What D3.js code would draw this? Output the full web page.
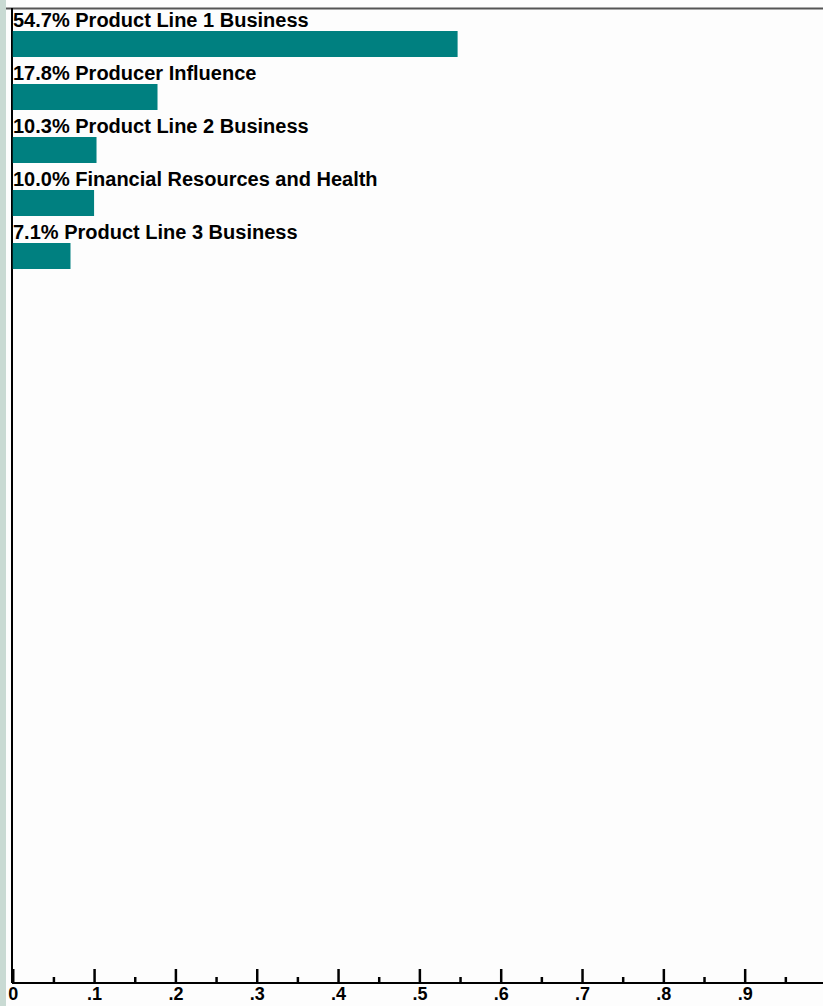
<!DOCTYPE html>
<html>
<head>
<meta charset="utf-8">
<script src="https://cdn.jsdelivr.net/npm/d3@7"></script>
<style>
  body { margin: 0; background: #fdfdfd; }
  svg { display: block; }
</style>
</head>
<body>
<div id="chart"></div>
<script>
const categories = [
  "Product Line 1 Business",
  "Producer Influence",
  "Product Line 2 Business",
  "Financial Resources and Health",
  "Product Line 3 Business"
]
const shares = [0.547, 0.178, 0.103, 0.100, 0.071]
const majorTicks = [0, .1, .2, .3, .4, .5, .6, .7, .8, .9]
const minorTicks = [.05, .15, .25, .35, .45, .55, .65, .75, .85, .95]

const dataset = categories.map((c, i) => ({name: c, value: shares[i]}))

let dimensions = {
  width: 823,
  height: 1006,
  margin: {top: 8, left: 12.75, bottom: 23}
}
const axisY = dimensions.height - dimensions.margin.bottom

const svg = d3.select("#chart").append("svg")
  .attr("width", dimensions.width)
  .attr("height", dimensions.height)

// left strip of the window behind the chart
svg.append("rect")
  .attr("x", 0).attr("y", 0)
  .attr("width", 6).attr("height", dimensions.height)
  .attr("fill", "#c9dad3")

let x = d3.scaleLinear()
  .domain([0, 1])
  .range([dimensions.margin.left, 826])

let y = d3.scaleBand()
  .domain(categories)
  .range([dimensions.margin.top, dimensions.margin.top + 53 * categories.length])

// frame
svg.append("line")
  .attr("x1", 6).attr("x2", dimensions.width)
  .attr("y1", 8.5).attr("y2", 8.5)
  .attr("stroke", "#555").attr("stroke-width", 2)
svg.append("line")
  .attr("x1", 12).attr("x2", 12)
  .attr("y1", 8).attr("y2", axisY)
  .attr("stroke", "#000").attr("stroke-width", 2)

const rows = svg.selectAll("g.row")
  .data(dataset)
  .enter()
  .append("g")
  .attr("class", "row")

rows.append("rect")
  .attr("x", x(0))
  .attr("y", d => y(d.name) + 23)
  .attr("width", d => x(d.value) - x(0))
  .attr("height", 26)
  .attr("fill", "#008080")

rows.append("text")
  .attr("x", 13)
  .attr("y", d => y(d.name) + 19)
  .attr("font-family", "Liberation Sans, Arial, sans-serif")
  .attr("font-weight", "bold")
  .attr("font-size", 20)
  .attr("fill", "#000")
  .text(d => d3.format(".1%")(d.value) + " " + d.name)

const fmt = d => d === 0 ? "0" : d3.format(".1f")(d).replace(/^0/, "")

const major = svg.append("g")
  .attr("transform", "translate(0," + axisY + ")")
  .call(d3.axisTop(x).tickValues(majorTicks).tickSize(14).tickFormat(""))
major.select(".domain").remove()
major.selectAll("line").attr("stroke", "#000").attr("stroke-width", 2.5)

const minor = svg.append("g")
  .attr("transform", "translate(0," + axisY + ")")
  .call(d3.axisTop(x).tickValues(minorTicks).tickSize(6).tickFormat(""))
minor.select(".domain").remove()
minor.selectAll("line").attr("stroke", "#000").attr("stroke-width", 2.5)

svg.append("line")
  .attr("x1", 12).attr("x2", dimensions.width)
  .attr("y1", axisY).attr("y2", axisY)
  .attr("stroke", "#000").attr("stroke-width", 2)

const labels = svg.append("g")
  .attr("transform", "translate(0," + axisY + ")")
  .call(d3.axisBottom(x).tickValues(majorTicks).tickSize(0).tickPadding(4).tickFormat(fmt))
labels.select(".domain").remove()
labels.selectAll("text")
  .attr("font-family", "Liberation Sans, Arial, sans-serif")
  .attr("font-weight", "bold")
  .attr("font-size", 18)
  .attr("fill", "#000")
</script>
</body>
</html>
